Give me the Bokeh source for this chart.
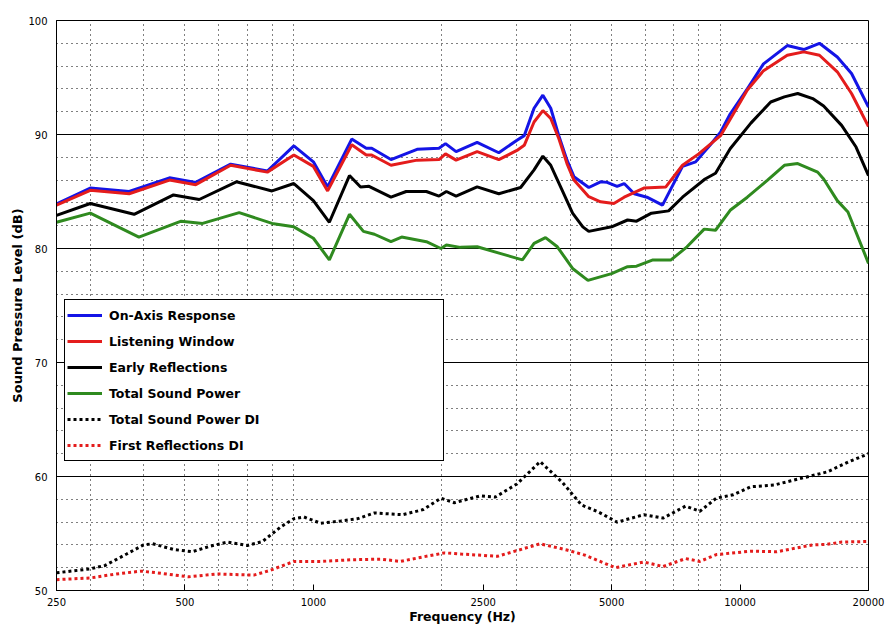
from bokeh.plotting import figure
from bokeh.models import (Range1d, FixedTicker, Grid, NumeralTickFormatter,
                          Legend, LegendItem)
from bokeh.embed import file_html
from bokeh.resources import INLINE

# On-Axis Response
f_on = [250, 300, 370, 460, 530, 640, 780, 900, 1000, 1080, 1230, 1330, 1370,
        1520, 1750, 1970, 2040, 2160, 2420, 2720, 3000, 3120, 3290, 3450, 3600,
        3760, 3930, 4080, 4420, 4710, 4880, 5150, 5350, 5650, 6050, 6580, 7330,
        7870, 8520, 9000, 9480, 10400, 11350, 12900, 14100, 15350, 16900, 18250,
        20000]
spl_on = [83.9, 85.3, 85.0, 86.2, 85.8, 87.4, 86.8, 89.0, 87.6, 85.4, 89.6, 88.8, 88.8,
          87.8, 88.7, 88.8, 89.2, 88.5, 89.3, 88.4, 89.5, 89.9, 92.3, 93.45, 92.3,
          89.9, 87.75, 86.3, 85.35, 85.85, 85.8, 85.45, 85.7, 84.8, 84.5, 83.8, 87.2,
          87.6, 89.1, 90.2, 91.8, 94.0, 96.2, 97.8, 97.45, 98.0, 96.8, 95.35,
          92.4]

# Listening Window
f_lw = [250, 300, 370, 460, 530, 640, 780, 900, 1000, 1080, 1230, 1330, 1370,
        1520, 1750, 1970, 2040, 2160, 2420, 2720, 3000, 3120, 3290, 3450, 3600,
        3760, 3930, 4080, 4420, 4710, 5060, 5350, 5950, 6700, 7330, 8000, 9000,
        10400, 11350, 12900, 14100, 15350, 16900, 18250, 20000]
spl_lw = [83.8, 85.1, 84.8, 86.0, 85.6, 87.3, 86.7, 88.2, 87.2, 85.05, 89.1, 88.2, 88.2,
          87.3, 87.75, 87.8, 88.3, 87.75, 88.5, 87.8, 88.6, 89.05, 91.1, 92.1, 91.4,
          89.65, 87.45, 86.0, 84.55, 84.1, 83.95, 84.5, 85.3, 85.4, 87.3, 88.3, 89.9,
          93.9, 95.6, 96.95, 97.25, 96.95, 95.5, 93.6, 90.7]

# Early Reflections
f_er = [250, 300, 380, 470, 540, 660, 800, 900, 1000, 1090, 1215, 1290, 1350,
        1520, 1650, 1840, 1970, 2050, 2160, 2420, 2720, 3060, 3290, 3450, 3600,
        3830, 4050, 4280, 4420, 5000, 5450, 5720, 6200, 6800, 7330, 8280, 8760,
        9480, 10600, 11800, 12700, 13650, 14800, 15700, 17300, 18700, 20000]
spl_er = [82.9, 83.95, 83.0, 84.7, 84.3, 85.85, 85.05, 85.7, 84.2, 82.3, 86.4, 85.4, 85.45,
          84.5, 85.0, 85.0, 84.6, 85.0, 84.6, 85.4, 84.8, 85.35, 86.9, 88.1, 87.3,
          85.1, 83.1, 81.9, 81.5, 81.9, 82.5, 82.4, 83.1, 83.3, 84.5, 86.1, 86.6,
          88.75, 91.0, 92.85, 93.3, 93.6, 93.15, 92.5, 90.8, 88.9, 86.4]

# Total Sound Power
f_sp = [250, 300, 390, 490, 550, 670, 800, 900, 1000, 1090, 1215, 1310, 1390,
        1520, 1610, 1840, 1990, 2050, 2210, 2420, 2750, 3090, 3290, 3500, 3730,
        4050, 4400, 5000, 5450, 5720, 6250, 6890, 7510, 8240, 8760, 9480, 10400,
        11600, 12700, 13650, 15200, 15700, 16900, 17900, 20000]
spl_sp = [82.3, 83.1, 81.0, 82.4, 82.2, 83.15, 82.2, 81.9, 80.9, 79.0, 83.0, 81.5, 81.25,
          80.6, 81.0, 80.6, 80.0, 80.3, 80.1, 80.15, 79.55, 79.0, 80.45, 80.95, 80.15,
          78.25, 77.2, 77.8, 78.4, 78.45, 79.0, 79.0, 80.15, 81.7, 81.6, 83.35, 84.5,
          86.0, 87.3, 87.45, 86.7, 86.1, 84.2, 83.2, 78.7]

# Total Sound Power DI
f_spdi = [250, 300, 325, 365, 400, 420, 470, 520, 575, 630, 700, 760, 840, 900,
          950, 1040, 1160, 1270, 1390, 1620, 1810, 1990, 2140, 2460, 2670, 3000,
          3400, 3830, 4250, 4650, 5150, 5950, 6600, 7450, 8050, 8800, 9650, 10600,
          12000, 13100, 16000, 18000, 20000]
spl_spdi = [51.55, 51.9, 52.2, 53.2, 54.0, 54.1, 53.6, 53.4, 53.9, 54.25, 53.95, 54.3, 55.6, 56.3,
            56.45, 55.9, 56.1, 56.3, 56.8, 56.65, 57.1, 58.1, 57.7, 58.3, 58.2, 59.35,
            61.3, 59.5, 57.5, 56.9, 56.0, 56.65, 56.35, 57.4, 56.95, 58.1, 58.4, 59.1,
            59.25, 59.6, 60.4, 61.3, 62.0]

# First Reflections DI
f_erdi = [250, 300, 345, 395, 430, 510, 595, 725, 790, 900, 1040, 1230, 1440,
          1600, 1780, 2030, 2220, 2700, 3000, 3400, 3930, 4330, 5100, 5950, 6600,
          7450, 8050, 8800, 10600, 12200, 14800, 16000, 17300, 20000]
spl_erdi = [50.95, 51.1, 51.45, 51.7, 51.55, 51.2, 51.45, 51.35, 51.75, 52.55, 52.55, 52.7, 52.75,
            52.55, 52.9, 53.3, 53.2, 53.0, 53.5, 54.1, 53.55, 53.1, 52.0, 52.5, 52.1,
            52.8, 52.55, 53.15, 53.45, 53.4, 54.0, 54.05, 54.25, 54.3]

x_ticks = [250, 500, 1000, 2500, 5000, 10000, 20000]
x_minor = [300, 400, 500, 600, 700, 800, 900,
           2000, 3000, 4000, 5000, 6000, 7000, 8000, 9000]
y_ticks = [50, 60, 70, 80, 90, 100]
y_minor = [52, 54, 56, 58, 62, 64, 66, 68, 72, 74, 76, 78,
           82, 84, 86, 88, 92, 94, 96, 98]

FONT = "DejaVu Sans"

p = figure(width=892, height=626, x_axis_type="log",
           x_range=Range1d(250, 20000), y_range=Range1d(50, 100),
           output_backend="svg", toolbar_location=None,
           min_border_left=56, min_border_right=24,
           min_border_top=20, min_border_bottom=36)
p.background_fill_color = "white"
p.border_fill_color = "white"
p.outline_line_color = "black"
p.outline_line_alpha = 1
p.outline_line_width = 1

p.xaxis.ticker = FixedTicker(ticks=x_ticks, minor_ticks=x_minor)
p.xaxis.formatter = NumeralTickFormatter(format="0")
p.yaxis.ticker = FixedTicker(ticks=y_ticks, minor_ticks=y_minor)
p.xaxis.axis_label = "Frequency (Hz)"
p.yaxis.axis_label = "Sound Pressure Level (dB)"

for ax in p.xaxis + p.yaxis:
    ax.major_tick_in = 6
    ax.major_tick_out = 0
    ax.minor_tick_line_color = None
    ax.axis_line_color = "black"
    ax.major_tick_line_color = "black"
    ax.major_label_text_font = FONT
    ax.major_label_text_font_size = "10px"
    ax.major_label_text_color = "black"
    ax.axis_label_text_font = FONT
    ax.axis_label_text_font_style = "bold"
    ax.axis_label_text_color = "black"
    ax.axis_label_standoff = 0
p.xaxis.major_label_standoff = 3
p.xaxis.axis_label_text_font_size = "12.5px"
p.yaxis.major_label_standoff = 5
p.yaxis.axis_label_text_font_size = "13px"

# short tick marks along the top edge
p.add_layout(Grid(dimension=0, ticker=FixedTicker(ticks=x_ticks),
                  bounds=(99.5, 100), grid_line_color="black"))

# grid: solid at labelled dB, dotted at the rest
p.ygrid.grid_line_color = "black"
p.ygrid.grid_line_width = 1
p.ygrid.grid_line_alpha = 1
p.ygrid.minor_grid_line_color = "black"
p.ygrid.minor_grid_line_dash = "1 4"
p.xgrid.grid_line_color = None
p.xgrid.minor_grid_line_color = "black"
p.xgrid.minor_grid_line_dash = "1 4"

r_on = p.line(f_on, spl_on, line_width=3, color="#1414e6")
r_lw = p.line(f_lw, spl_lw, line_width=3, color="#e41c1c")
r_er = p.line(f_er, spl_er, line_width=3, color="black")
r_sp = p.line(f_sp, spl_sp, line_width=3, color="#2f8a1f")
r_spdi = p.line(f_spdi, spl_spdi, line_width=3, color="black", line_dash="3 3")
r_erdi = p.line(f_erdi, spl_erdi, line_width=3, color="#e41c1c", line_dash="3 3")

legend = Legend(items=[
    LegendItem(label="On-Axis Response", renderers=[r_on]),
    LegendItem(label="Listening Window", renderers=[r_lw]),
    LegendItem(label="Early Reflections", renderers=[r_er]),
    LegendItem(label="Total Sound Power", renderers=[r_sp]),
    LegendItem(label="Total Sound Power DI", renderers=[r_spdi]),
    LegendItem(label="First Reflections DI", renderers=[r_erdi]),
], location=(8, 129))
legend.label_text_font = FONT
legend.label_text_font_size = "12.5px"
legend.label_text_font_style = "bold"
legend.label_text_color = "black"
legend.border_line_color = "black"
legend.border_line_alpha = 1
legend.background_fill_alpha = 1
legend.padding = 2
legend.spacing = 0
legend.margin = 0
legend.glyph_width = 35
legend.glyph_height = 26
legend.label_height = 26
legend.label_standoff = 7
legend.label_width = 332
p.add_layout(legend, "center")

open("out.html", "w").write(file_html(p, INLINE))
